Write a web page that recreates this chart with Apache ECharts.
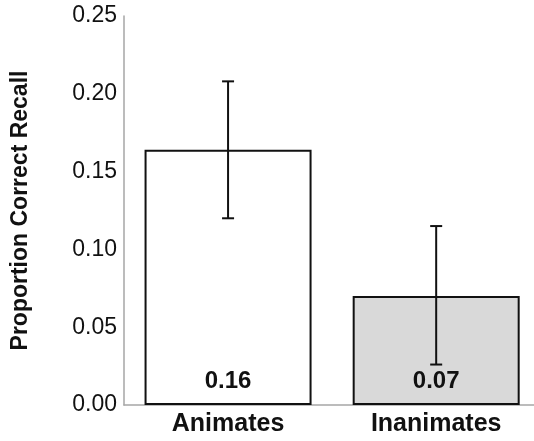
<!DOCTYPE html>
<html>
<head>
<meta charset="utf-8">
<script src="https://cdn.jsdelivr.net/npm/echarts@6/dist/echarts.min.js"></script>
<style>
  html, body { margin: 0; padding: 0; background: #fff; }
  #chart { width: 534px; height: 441px; }
</style>
</head>
<body>
<div id="chart"></div>
<script>
// data
const categories = ['Animates', 'Inanimates'];
const means = [0.164, 0.070];
const errLow = [0.120, 0.026];
const errHigh = [0.208, 0.115];
const barColors = ['#ffffff', '#d9d9d9'];
const yTicks = { min: 0, max: 0.25, step: 0.05 };

const font = 'Liberation Sans, Arial, Helvetica, sans-serif';

const chart = echarts.init(document.getElementById('chart'));

chart.setOption({
    animation: false,
    grid: { left: 124, right: 0, top: 16, bottom: 36 },
    // numeric x so the second bar can sit close to the right edge
    xAxis: {
        type: 'value',
        min: -0.5,
        max: 1.47,
        splitLine: { show: false },
        axisTick: { show: false },
        axisLine: { show: true, onZero: false, lineStyle: { color: '#a6a6a6', width: 1.5 } },
        axisLabel: {
            customValues: categories.map((c, i) => i),
            formatter: v => categories[Math.round(v)],
            color: '#111', fontFamily: font, fontWeight: 'bold',
            fontSize: 25, margin: 7
        }
    },
    yAxis: {
        type: 'value',
        min: yTicks.min, max: yTicks.max, interval: yTicks.step,
        name: 'Proportion Correct Recall',
        nameLocation: 'middle',
        nameGap: 92,
        nameTextStyle: {
            color: '#111', fontFamily: font, fontWeight: 'bold', fontSize: 23
        },
        splitLine: { show: false },
        axisTick: { show: false },
        axisLine: { show: true, onZero: false, lineStyle: { color: '#a6a6a6', width: 1.5 } },
        axisLabel: {
            color: '#111', fontFamily: font, fontSize: 23, margin: 7,
            formatter: v => v.toFixed(2)
        }
    },
    series: [
        {
            type: 'bar',
            barWidth: 167,
            data: means.map((v, i) => ({
                value: [i, v],
                itemStyle: { color: barColors[i] }
            })),
            itemStyle: { borderColor: '#111', borderWidth: 2 },
            label: {
                show: true,
                position: 'insideBottom',
                distance: 12,
                color: '#111', fontFamily: font, fontWeight: 'bold', fontSize: 24,
                formatter: p => p.value[1].toFixed(2)
            }
        },
        {
            // error bars
            type: 'custom',
            data: categories.map((c, i) => [i, errLow[i], errHigh[i]]),
            z: 10,
            renderItem: function (params, api) {
                const lo = api.coord([api.value(0), api.value(1)]);
                const hi = api.coord([api.value(0), api.value(2)]);
                const w = 6;
                const style = { stroke: '#111', lineWidth: 2 };
                return {
                    type: 'group',
                    children: [
                        { type: 'line', shape: { x1: lo[0], y1: lo[1], x2: hi[0], y2: hi[1] }, style },
                        { type: 'line', shape: { x1: lo[0] - w, y1: lo[1], x2: lo[0] + w, y2: lo[1] }, style },
                        { type: 'line', shape: { x1: hi[0] - w, y1: hi[1], x2: hi[0] + w, y2: hi[1] }, style }
                    ]
                };
            }
        }
    ]
});
</script>
</body>
</html>
